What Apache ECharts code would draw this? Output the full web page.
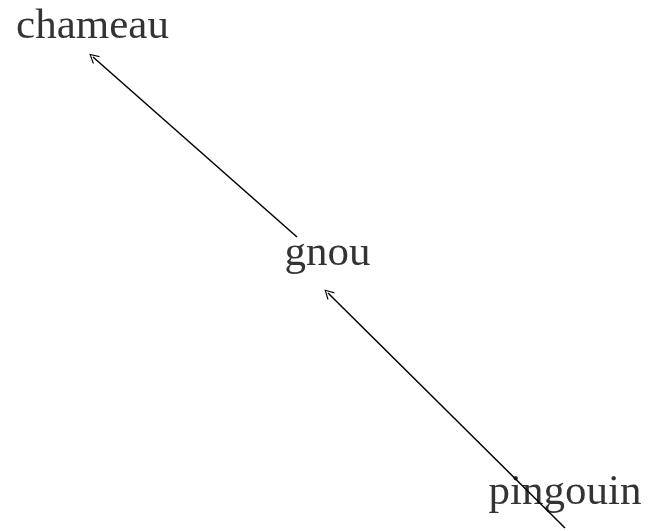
<!DOCTYPE html>
<html>
<head>
<meta charset="utf-8">
<script src="https://cdn.jsdelivr.net/npm/echarts@6/dist/echarts.min.js"></script>
<style>
  html, body { margin: 0; padding: 0; background: #fff; }
  #main { width: 658px; height: 531px; }
</style>
</head>
<body>
<div id="main"></div>
<script>
// noeuds du graphe : nom et position (repere 658 x 531, y vers le bas)
var nodeNames = ['chameau', 'gnou', 'pingouin'];
var nodeX = [92.5, 327.5, 565];
var nodeY = [26.5, 254, 492.5];

// fleches : depart -> arrivee
var arrowFrom = [[297, 237], [565, 528]];
var arrowTo = [[93, 57], [328, 293]];

var myChart = echarts.init(document.getElementById('main'));

var nodeData = nodeNames.map(function (n, i) {
    return { name: n, value: [nodeX[i], nodeY[i]] };
});
var lineData = arrowFrom.map(function (p, i) {
    return { coords: [p, arrowTo[i]] };
});

var option = {
    backgroundColor: '#fff',
    animation: false,
    grid: { left: 0, right: 0, top: 0, bottom: 0 },
    xAxis: { type: 'value', min: 0, max: 658, show: false },
    yAxis: { type: 'value', min: 0, max: 531, inverse: true, show: false },
    series: [
        {
            type: 'lines',
            coordinateSystem: 'cartesian2d',
            // pointe ouverte facon tikz
            symbol: ['none', 'path://M0,0 L6,8 L5,8.8 L0,2 L-5,8.8 L-6,8 Z'],
            symbolSize: [14, 10],
            lineStyle: { color: '#000', width: 1.5, opacity: 1, curveness: 0 },
            itemStyle: { color: '#000' },
            data: lineData
        },
        {
            type: 'scatter',
            symbolSize: 0,
            label: {
                show: true,
                position: 'inside',
                formatter: '{b}',
                color: '#000',
                fontSize: 43,
                fontFamily: 'Liberation Serif'
            },
            data: nodeData
        }
    ]
};
myChart.setOption(option);
</script>
</body>
</html>
